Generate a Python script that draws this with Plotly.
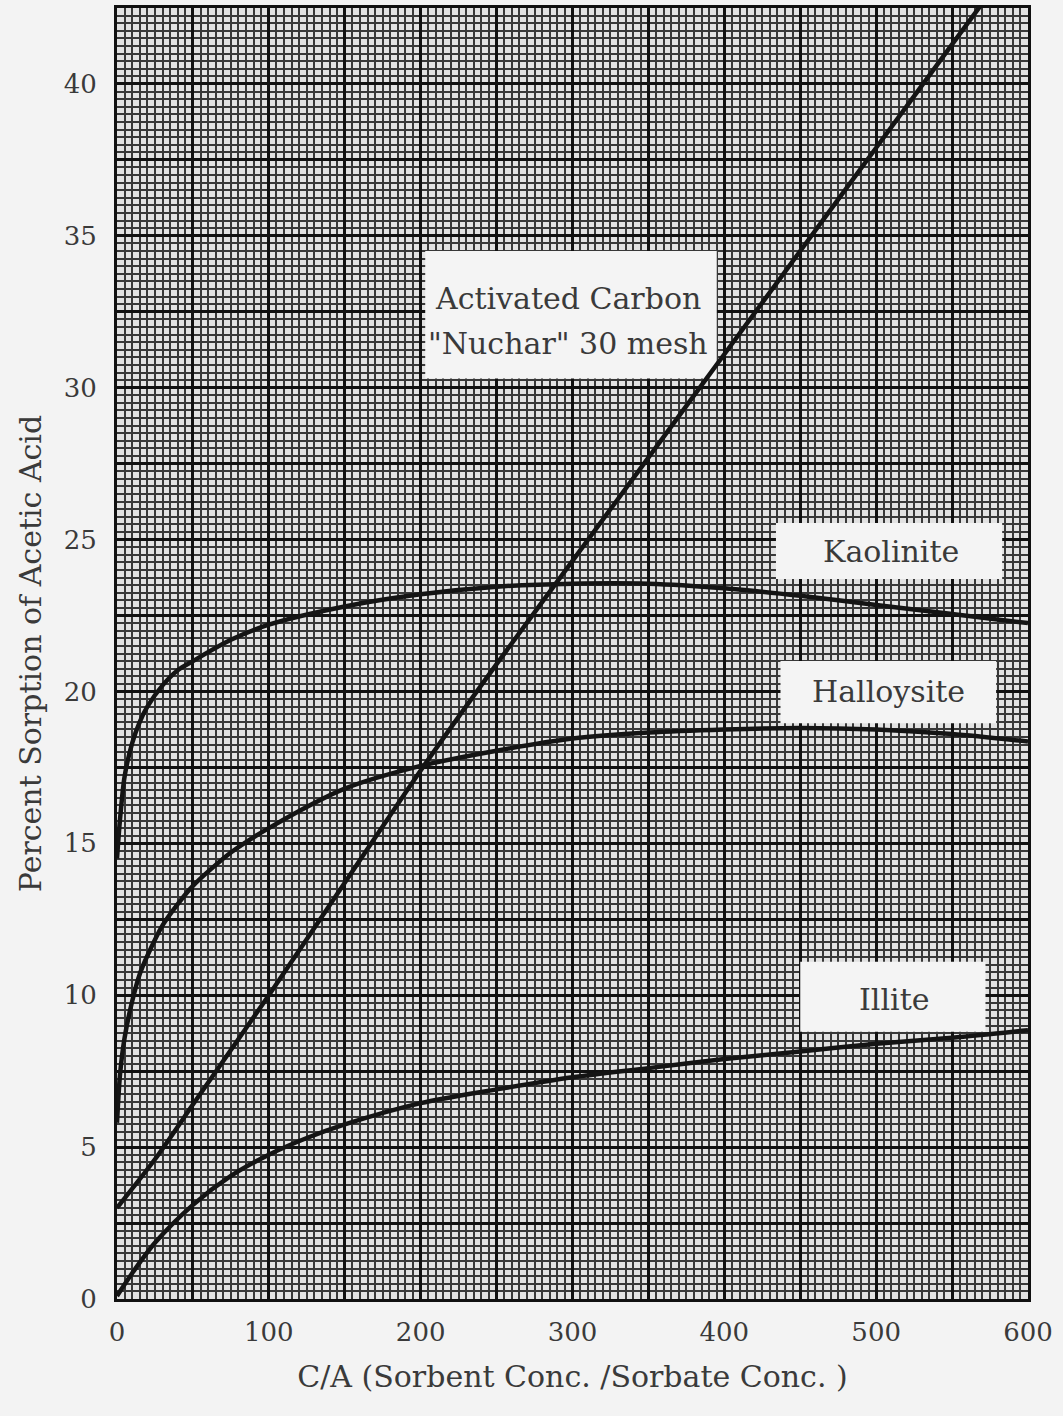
import plotly.graph_objects as go

# ---- data ----
carbon_x = [0, 25, 50, 75, 100, 150, 200, 250, 300, 350, 400, 450, 500, 550, 600]
carbon_y = [3.0, 4.6, 6.4, 8.2, 10.0, 13.7, 17.4, 20.9, 24.3, 27.7, 31.1, 34.5, 37.9, 41.3, 44.7]

kaolinite_x = [0, 2, 5, 10, 15, 20, 30, 40, 50, 75, 100, 150, 200, 250, 300, 350, 400, 450, 500, 550, 600]
kaolinite_y = [14.5, 15.8, 17.2, 18.3, 19.0, 19.5, 20.2, 20.7, 21.0, 21.7, 22.2, 22.8, 23.2, 23.45, 23.55,
               23.55, 23.4, 23.15, 22.85, 22.55, 22.25]

halloysite_x = [0, 2, 5, 10, 15, 20, 30, 40, 50, 75, 100, 150, 200, 250, 300, 350, 400, 450, 500, 550, 600]
halloysite_y = [5.8, 7.4, 8.6, 9.8, 10.7, 11.3, 12.3, 13.0, 13.6, 14.7, 15.5, 16.8, 17.55, 18.05, 18.45,
                18.65, 18.75, 18.8, 18.75, 18.6, 18.35]

illite_x = [0, 10, 25, 50, 75, 100, 125, 150, 200, 250, 300, 350, 400, 450, 500, 550, 600]
illite_y = [0.1, 0.85, 1.85, 3.1, 4.05, 4.75, 5.3, 5.75, 6.45, 6.9, 7.3, 7.6, 7.9, 8.15, 8.4, 8.6, 8.85]

x_tickvals = list(range(0, 601, 50))
x_ticktext = [str(v) if v % 100 == 0 else "" for v in x_tickvals]
y_tickvals = [i * 2.5 for i in range(0, 18)]
y_ticktext = [str(int(v)) if v % 5 == 0 and v <= 40 else "" for v in y_tickvals]

FONT = "DejaVu Serif"
INK = "#3a3a3a"
LINE = "#141414"

fig = go.Figure()
series = [
    ("Activated Carbon", carbon_x, carbon_y),
    ("Kaolinite", kaolinite_x, kaolinite_y),
    ("Halloysite", halloysite_x, halloysite_y),
    ("Illite", illite_x, illite_y),
]
for name, xs, ys in series:
    fig.add_trace(go.Scatter(x=xs, y=ys, mode="lines", name=name,
                             line=dict(color=LINE, width=4.5, shape="spline", smoothing=0.8),
                             showlegend=False, cliponaxis=True))

# label boxes (paper patches on the grid)
boxes = [
    (203, 395, 30.3, 34.5),   # activated carbon
    (434, 583, 23.7, 25.55),  # kaolinite
    (437, 579, 18.95, 21.0),  # halloysite
    (450, 572, 8.8, 11.1),    # illite
]
for x0, x1, y0, y1 in boxes:
    fig.add_shape(type="rect", xref="x", yref="y", x0=x0, x1=x1, y0=y0, y1=y1,
                  fillcolor="#f4f4f4", line=dict(width=0), layer="between")

labels = [
    ("Activated Carbon", 297, 32.95),
    ("\"Nuchar\" 30 mesh", 297, 31.45),
    ("Kaolinite", 510, 24.6),
    ("Halloysite", 508, 20.0),
    ("Illite", 512, 9.85),
]
for txt, x, y in labels:
    fig.add_annotation(x=x, y=y, xref="x", yref="y", text=txt, showarrow=False,
                       font=dict(family=FONT, size=30, color=INK))

axis_common = dict(
    showline=True, linecolor="#111", linewidth=3, mirror=True,
    showgrid=True, gridcolor="#111", gridwidth=2.5, zeroline=False,
    ticks="", tickfont=dict(family=FONT, size=26, color=INK),
)
fig.update_xaxes(range=[0, 600], tickmode="array", tickvals=x_tickvals, ticktext=x_ticktext,
                 minor=dict(tick0=0, dtick=5, showgrid=True, gridcolor="#383838", gridwidth=1.5),
                 ticklabelstandoff=8,
                 title=dict(text="C/A (Sorbent Conc. /Sorbate Conc. )",
                            font=dict(family=FONT, size=30, color=INK), standoff=20),
                 **axis_common)
fig.update_yaxes(range=[0, 42.5], tickmode="array", tickvals=y_tickvals, ticktext=y_ticktext,
                 minor=dict(tick0=0, dtick=0.25, showgrid=True, gridcolor="#383838", gridwidth=1.5),
                 ticklabelstandoff=12,
                 title=dict(text="Percent Sorption of Acetic Acid",
                            font=dict(family=FONT, size=30, color=INK), standoff=14),
                 **axis_common)

fig.update_layout(
    width=1063, height=1416,
    margin=dict(l=117, r=35, t=8, b=117, autoexpand=False),
    paper_bgcolor="#f3f3f3", plot_bgcolor="#e2e2e2",
    font=dict(family=FONT, color=INK),
)
fig.write_html("out.html")
